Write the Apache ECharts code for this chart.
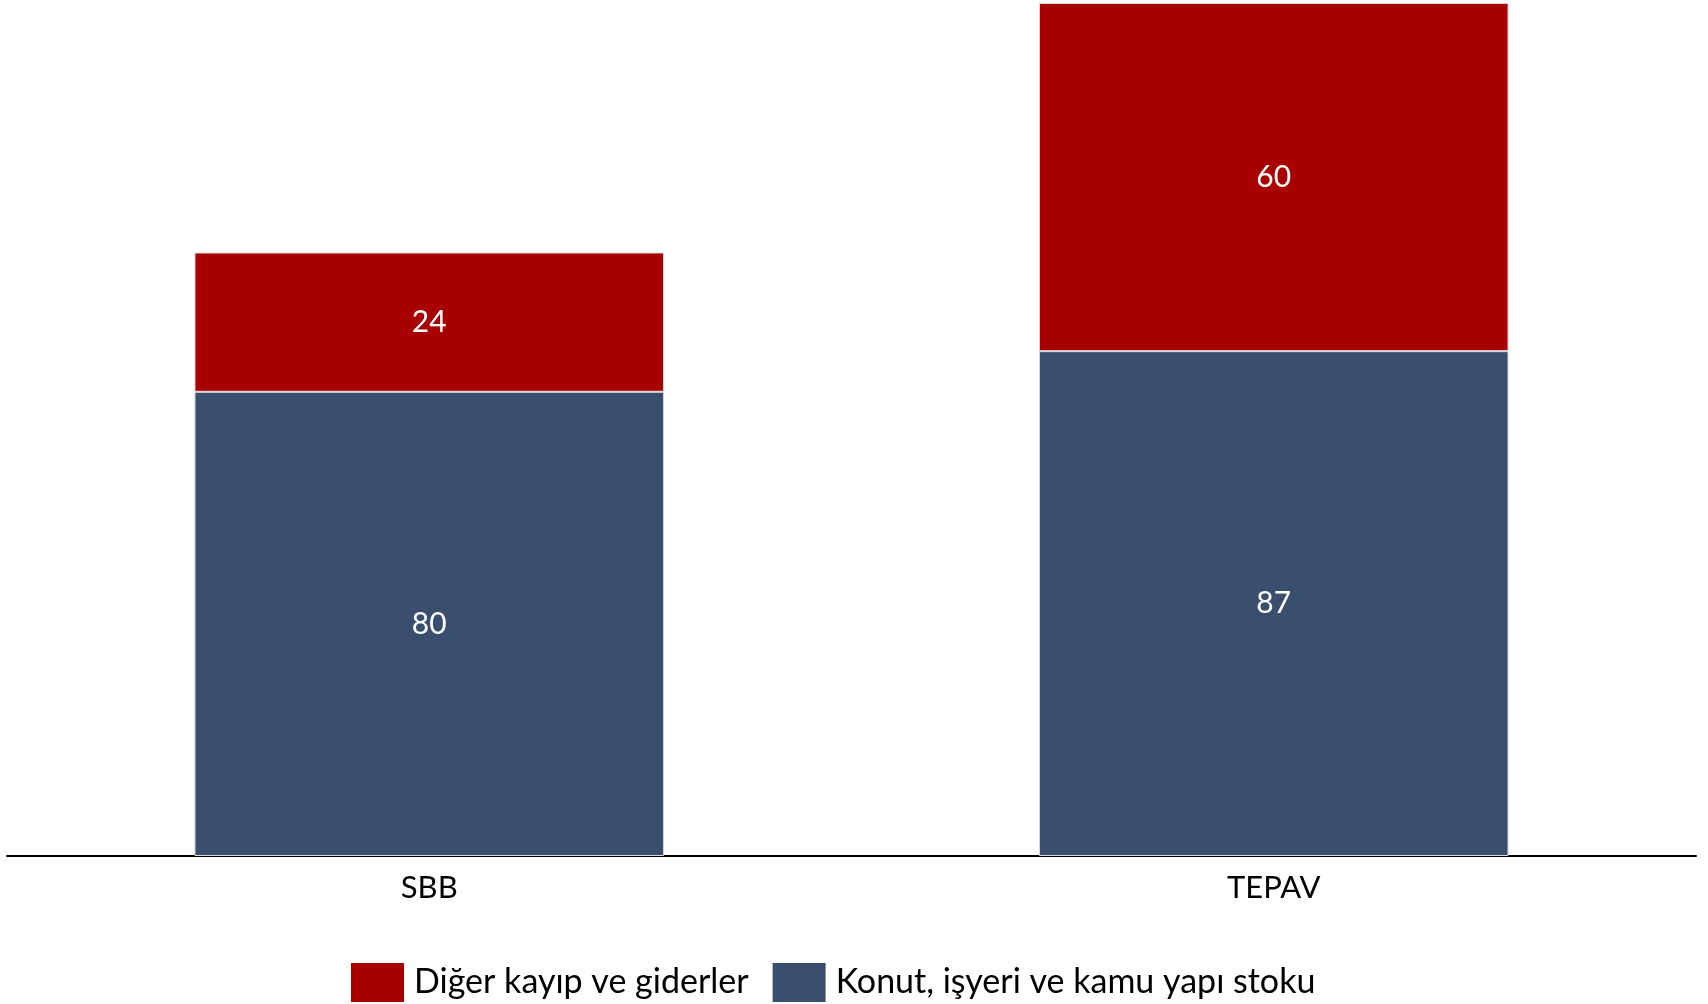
<!DOCTYPE html>
<html>
<head>
<meta charset="utf-8">
<script src="https://cdn.jsdelivr.net/npm/echarts@6/dist/echarts.min.js"></script>
<style>
  html, body { margin: 0; padding: 0; background: #fff; }
  #chart { width: 1708px; height: 1004px; }
</style>
</head>
<body>
<div id="chart"></div>
<script>
const categories = ['SBB', 'TEPAV']
const stokValues = [80, 87]
const digerValues = [24, 60]
const seriesNames = ['Konut, işyeri ve kamu yapı stoku', 'Diğer kayıp ve giderler']

const fontFamily = 'Lato, "Open Sans", sans-serif'

const chart = echarts.init(document.getElementById('chart'))

const valueLabel = {
  show: true,
  position: 'inside',
  color: '#fff',
  fontSize: 30,
  fontFamily: fontFamily
}

chart.setOption({
  animation: false,
  grid: { left: 7, right: 12, top: 3, bottom: 148 },
  legend: {
    data: [seriesNames[1], seriesNames[0]],
    left: 346,
    top: 958,
    itemWidth: 53,
    itemHeight: 39,
    itemGap: 24,
    icon: 'rect',
    itemStyle: { borderWidth: 0 },
    textStyle: { fontSize: 34, color: '#000', fontFamily: fontFamily, padding: [0, 0, 0, 5] }
  },
  xAxis: {
    type: 'category',
    data: categories,
    axisLine: { lineStyle: { color: '#000', width: 2 } },
    axisTick: { show: false },
    axisLabel: { fontSize: 31, color: '#000', margin: 16, fontFamily: fontFamily }
  },
  yAxis: {
    type: 'value',
    show: false,
    min: 0,
    max: function (v) { return v.max }
  },
  series: [
    {
      name: seriesNames[0],
      type: 'bar',
      stack: 'total',
      data: stokValues,
      barWidth: '55.6%',
      itemStyle: { color: '#3a4f6e', borderColor: '#d9d9d9', borderWidth: 1 },
      label: valueLabel
    },
    {
      name: seriesNames[1],
      type: 'bar',
      stack: 'total',
      data: digerValues,
      barWidth: '55.6%',
      itemStyle: { color: '#a80000', borderColor: '#d9d9d9', borderWidth: 1 },
      label: valueLabel
    }
  ]
})
</script>
</body>
</html>
